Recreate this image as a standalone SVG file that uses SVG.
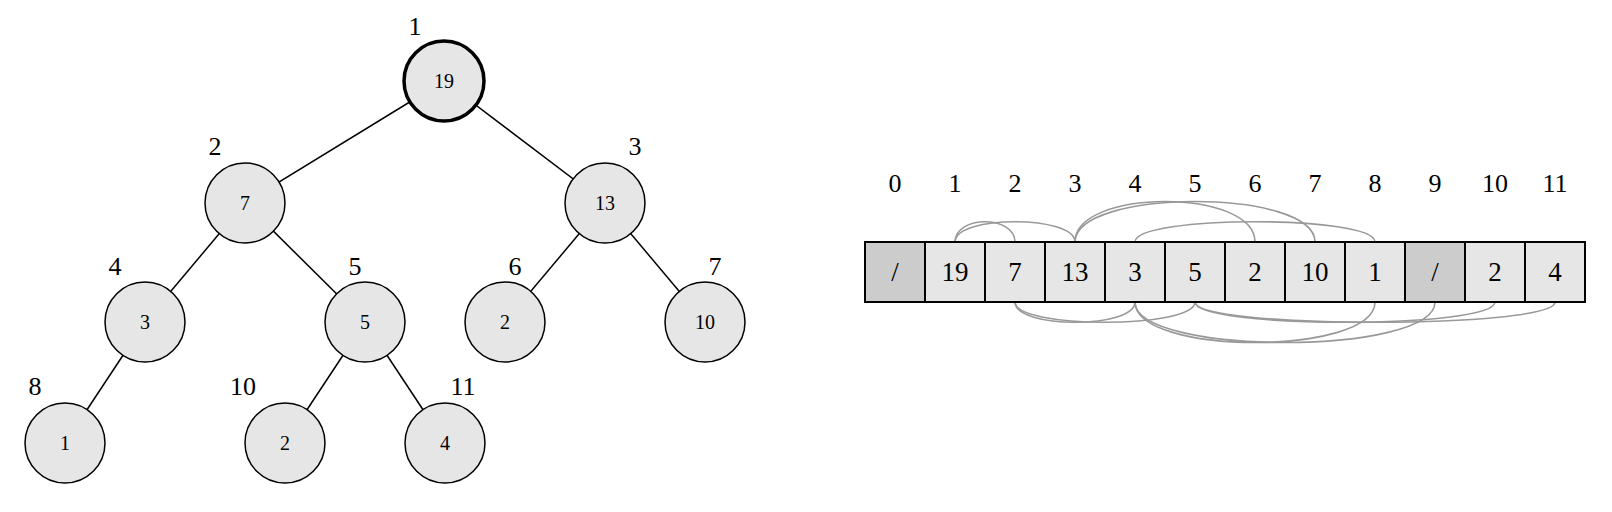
<svg xmlns="http://www.w3.org/2000/svg" width="1612" height="512" viewBox="0 0 1612 512">
<style>
.edge{stroke:#000;stroke-width:1.5;fill:none}
.node circle{fill:#e6e6e6;stroke:#000;stroke-width:1.5}
.node.root circle{stroke-width:3.5}
.val{font-family:"Liberation Serif","Times New Roman",serif;font-size:20px;text-anchor:middle;fill:#000}
.idx{font-family:"Liberation Serif","Times New Roman",serif;font-size:26px;text-anchor:middle;fill:#000}
.cell rect{fill:#e6e6e6;stroke:#000;stroke-width:2}
.cell.empty rect{fill:#cccccc}
.cval{font-family:"Liberation Serif","Times New Roman",serif;font-size:27px;text-anchor:middle;fill:#000}
.arc{stroke:#999;stroke-width:1.6;fill:none}
</style>
<rect width="1612" height="512" fill="#fff"/>
<g id="tree-edges">
<line class="edge" x1="444" y1="81" x2="245" y2="203"/>
<line class="edge" x1="444" y1="81" x2="605" y2="203"/>
<line class="edge" x1="245" y1="203" x2="145" y2="322"/>
<line class="edge" x1="245" y1="203" x2="365" y2="322"/>
<line class="edge" x1="605" y1="203" x2="505" y2="322"/>
<line class="edge" x1="605" y1="203" x2="705" y2="322"/>
<line class="edge" x1="145" y1="322" x2="65" y2="443"/>
<line class="edge" x1="365" y1="322" x2="285" y2="443"/>
<line class="edge" x1="365" y1="322" x2="445" y2="443"/>
</g>
<g id="node1" class="node root"><circle cx="444" cy="81" r="40"/><text class="val" x="444" y="88">19</text><text class="idx" x="415" y="35">1</text></g>
<g id="node2" class="node"><circle cx="245" cy="203" r="40"/><text class="val" x="245" y="210">7</text><text class="idx" x="215" y="155">2</text></g>
<g id="node3" class="node"><circle cx="605" cy="203" r="40"/><text class="val" x="605" y="210">13</text><text class="idx" x="635" y="155">3</text></g>
<g id="node4" class="node"><circle cx="145" cy="322" r="40"/><text class="val" x="145" y="329">3</text><text class="idx" x="115" y="275">4</text></g>
<g id="node5" class="node"><circle cx="365" cy="322" r="40"/><text class="val" x="365" y="329">5</text><text class="idx" x="355" y="275">5</text></g>
<g id="node6" class="node"><circle cx="505" cy="322" r="40"/><text class="val" x="505" y="329">2</text><text class="idx" x="515" y="275">6</text></g>
<g id="node7" class="node"><circle cx="705" cy="322" r="40"/><text class="val" x="705" y="329">10</text><text class="idx" x="715" y="275">7</text></g>
<g id="node8" class="node"><circle cx="65" cy="443" r="40"/><text class="val" x="65" y="450">1</text><text class="idx" x="35" y="395">8</text></g>
<g id="node10" class="node"><circle cx="285" cy="443" r="40"/><text class="val" x="285" y="450">2</text><text class="idx" x="243" y="395">10</text></g>
<g id="node11" class="node"><circle cx="445" cy="443" r="40"/><text class="val" x="445" y="450">4</text><text class="idx" x="463" y="395">11</text></g>
<g id="array-indices">
<text class="idx" x="895" y="192">0</text>
<text class="idx" x="955" y="192">1</text>
<text class="idx" x="1015" y="192">2</text>
<text class="idx" x="1075" y="192">3</text>
<text class="idx" x="1135" y="192">4</text>
<text class="idx" x="1195" y="192">5</text>
<text class="idx" x="1255" y="192">6</text>
<text class="idx" x="1315" y="192">7</text>
<text class="idx" x="1375" y="192">8</text>
<text class="idx" x="1435" y="192">9</text>
<text class="idx" x="1495" y="192">10</text>
<text class="idx" x="1555" y="192">11</text>
</g>
<g id="arcs">
<path class="arc" d="M955 242 C955 215 1015 215 1015 242"/>
<path class="arc" d="M955 242 C955 215 1075 215 1075 242"/>
<path class="arc" d="M1075 242 C1075 188 1255 188 1255 242"/>
<path class="arc" d="M1075 242 C1075 188 1315 188 1315 242"/>
<path class="arc" d="M1135 242 C1135 215 1375 215 1375 242"/>
<path class="arc" d="M1015 302 C1015 329 1135 329 1135 302"/>
<path class="arc" d="M1015 302 C1015 329 1195 329 1195 302"/>
<path class="arc" d="M1135 302 C1135 356 1375 356 1375 302"/>
<path class="arc" d="M1135 302 C1135 356 1435 356 1435 302"/>
<path class="arc" d="M1195 302 C1195 329 1495 329 1495 302"/>
<path class="arc" d="M1195 302 C1195 329 1555 329 1555 302"/>
</g>
<g id="cell0" class="cell empty"><rect x="865" y="242" width="60" height="60"/><text class="cval" x="895" y="281">/</text></g>
<g id="cell1" class="cell"><rect x="925" y="242" width="60" height="60"/><text class="cval" x="955" y="281">19</text></g>
<g id="cell2" class="cell"><rect x="985" y="242" width="60" height="60"/><text class="cval" x="1015" y="281">7</text></g>
<g id="cell3" class="cell"><rect x="1045" y="242" width="60" height="60"/><text class="cval" x="1075" y="281">13</text></g>
<g id="cell4" class="cell"><rect x="1105" y="242" width="60" height="60"/><text class="cval" x="1135" y="281">3</text></g>
<g id="cell5" class="cell"><rect x="1165" y="242" width="60" height="60"/><text class="cval" x="1195" y="281">5</text></g>
<g id="cell6" class="cell"><rect x="1225" y="242" width="60" height="60"/><text class="cval" x="1255" y="281">2</text></g>
<g id="cell7" class="cell"><rect x="1285" y="242" width="60" height="60"/><text class="cval" x="1315" y="281">10</text></g>
<g id="cell8" class="cell"><rect x="1345" y="242" width="60" height="60"/><text class="cval" x="1375" y="281">1</text></g>
<g id="cell9" class="cell empty"><rect x="1405" y="242" width="60" height="60"/><text class="cval" x="1435" y="281">/</text></g>
<g id="cell10" class="cell"><rect x="1465" y="242" width="60" height="60"/><text class="cval" x="1495" y="281">2</text></g>
<g id="cell11" class="cell"><rect x="1525" y="242" width="60" height="60"/><text class="cval" x="1555" y="281">4</text></g>
</svg>
